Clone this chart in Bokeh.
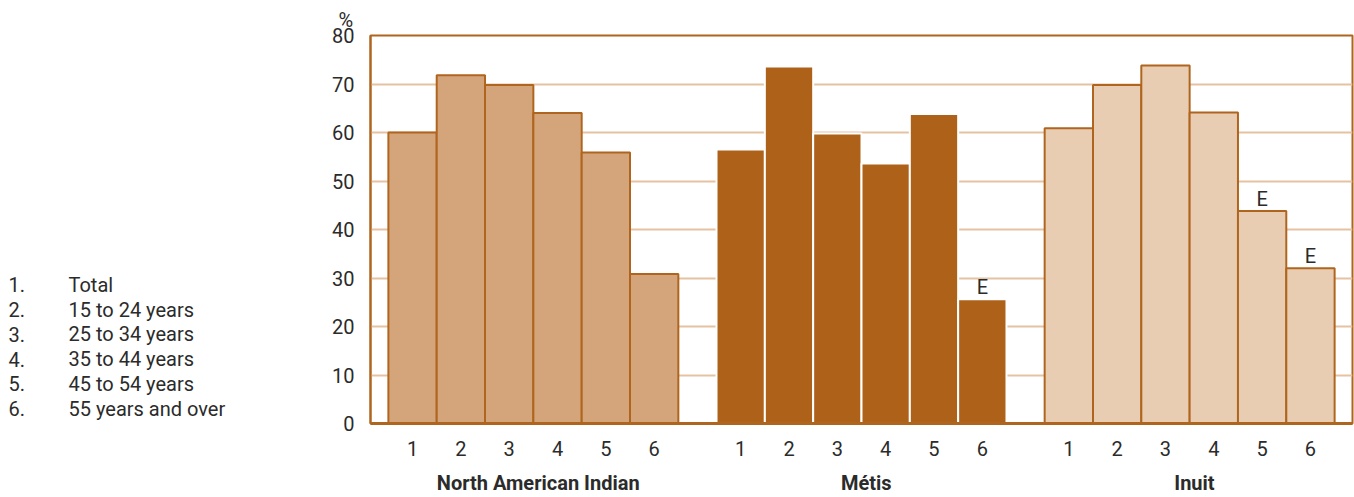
from bokeh.plotting import figure
from bokeh.models import Range1d, FixedTicker, LinearAxis
from bokeh.layouts import row
from bokeh.core.properties import value
from bokeh.embed import file_html
from bokeh.resources import INLINE

# ---- data ----
groups = ["North American Indian", "Métis", "Inuit"]
bar_numbers = ["1", "2", "3", "4", "5", "6"]
age_groups = ["Total", "15 to 24 years", "25 to 34 years", "35 to 44 years",
              "45 to 54 years", "55 years and over"]
nai_values = [60.0, 71.8, 69.8, 64.0, 55.9, 30.8]
metis_values = [56.5, 73.6, 59.8, 53.6, 63.8, 25.6]
inuit_values = [60.9, 69.8, 73.8, 64.1, 43.8, 32.0]
nai_flags = ["", "", "", "", "", ""]
metis_flags = ["", "", "", "", "", "E"]
inuit_flags = ["", "", "", "", "E", "E"]
y_ticks = [0, 10, 20, 30, 40, 50, 60, 70, 80]
unit_label = "%"

# ---- style ----
FONT = "Roboto"
BROWN = "#B0651E"
TEXT = "#2b2b2b"
FS = "20px"
fills = ["#D4A57A", "#AD6119", "#E8CDB2"]
lines = [BROWN, "#FFFFFF", BROWN]

PAD = 0.37
STEP = 6.79
TOP = 35
BOTTOM = 73
H = 497

# ---- legend figure (frame is aligned with the main figure's frame) ----
lf = figure(width=329, height=H, x_range=Range1d(0, 329), y_range=Range1d(H - BOTTOM, TOP),
            output_backend="svg", toolbar_location=None, min_border=0,
            min_border_top=TOP, min_border_bottom=BOTTOM,
            x_axis_location=None, y_axis_location=None)
lf.grid.visible = False
lf.outline_line_color = None
ly = [285 + i * 24.8 for i in range(len(age_groups))]
lf.text(x=[8] * len(age_groups), y=ly, text=[f"{i + 1}." for i in range(len(age_groups))],
        text_baseline="middle", text_font=value(FONT), text_font_size=FS, text_color=TEXT)
lf.text(x=[68] * len(age_groups), y=ly, text=age_groups,
        text_baseline="middle", text_font=value(FONT), text_font_size=FS, text_color=TEXT)

# ---- main figure ----
p = figure(width=1025, height=H, x_range=Range1d(0, 2 * STEP + 6 + 2 * PAD),
           y_range=Range1d(0, 80), output_backend="svg", toolbar_location=None,
           min_border_left=40, min_border_right=2, min_border_top=TOP, min_border_bottom=BOTTOM,
           x_axis_location=None, title=unit_label)

all_vals = [nai_values, metis_values, inuit_values]
all_flags = [nai_flags, metis_flags, inuit_flags]
tick_pos = []
tick_over = {}
group_pos = []
group_over = {}
for g, (vals, flags) in enumerate(zip(all_vals, all_flags)):
    xs = [PAD + g * STEP + i + 0.5 for i in range(len(vals))]
    p.vbar(x=xs, top=vals, width=1.0, bottom=0, fill_color=fills[g],
           line_color=lines[g], line_width=2)
    p.text(x=xs, y=vals, text=flags, text_align="center", text_baseline="bottom",
           y_offset=0, text_font=value(FONT), text_font_size=FS, text_color=TEXT)
    for i, x in enumerate(xs):
        tick_pos.append(x)
        tick_over[x] = bar_numbers[i]
    gx = PAD + g * STEP + 3.1
    group_pos.append(gx)
    group_over[gx] = groups[g]

# title used as the "%" unit label
p.title.align = "left"
p.title.offset = -32
p.title.text_font = FONT
p.title.text_font_size = FS
p.title.text_font_style = "normal"
p.title.text_color = TEXT
p.title.standoff = 8

# y axis
p.yaxis.ticker = FixedTicker(ticks=y_ticks)
p.yaxis.axis_line_color = BROWN
p.yaxis.axis_line_width = 2
p.yaxis.major_tick_line_color = None
p.yaxis.minor_tick_line_color = None
p.yaxis.major_tick_out = 0
p.yaxis.major_tick_in = 0
p.yaxis.major_label_standoff = 16
p.yaxis.major_label_text_font = FONT
p.yaxis.major_label_text_font_size = FS
p.yaxis.major_label_text_color = TEXT

p.ygrid.grid_line_color = "#E5C3A2"
p.ygrid.grid_line_width = 2
p.xgrid.visible = False
p.outline_line_color = BROWN
p.outline_line_width = 2

# bar-number axis
ax1 = LinearAxis(ticker=FixedTicker(ticks=tick_pos), major_label_overrides=tick_over)
ax1.axis_line_color = BROWN
ax1.axis_line_width = 3
ax1.major_tick_line_color = None
ax1.minor_tick_line_color = None
ax1.major_tick_out = 0
ax1.major_tick_in = 0
ax1.major_label_standoff = 17
ax1.major_label_text_font = FONT
ax1.major_label_text_font_size = FS
ax1.major_label_text_color = TEXT
p.add_layout(ax1, "below")

# group axis
ax2 = LinearAxis(ticker=FixedTicker(ticks=group_pos), major_label_overrides=group_over)
ax2.axis_line_color = None
ax2.major_tick_line_color = None
ax2.minor_tick_line_color = None
ax2.major_tick_out = 0
ax2.major_tick_in = 0
ax2.major_label_standoff = 12
ax2.major_label_text_font = FONT
ax2.major_label_text_font_size = FS
ax2.major_label_text_font_style = "bold"
ax2.major_label_text_color = TEXT
p.add_layout(ax2, "below")

layout = row(lf, p, spacing=0)
open("out.html", "w").write(file_html(layout, INLINE))
